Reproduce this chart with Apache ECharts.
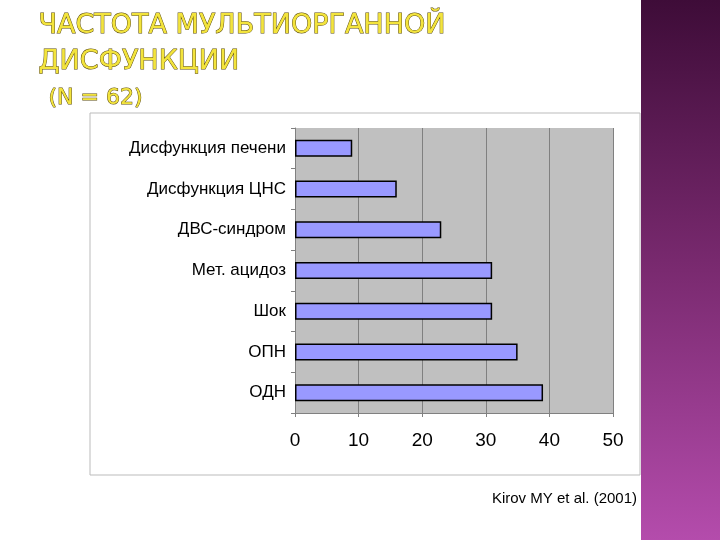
<!DOCTYPE html>
<html>
<head>
<meta charset="utf-8">
<script src="https://cdn.jsdelivr.net/npm/echarts@6/dist/echarts.min.js"></script>
<style>html,body{margin:0;padding:0;background:#fff}#c{width:720px;height:540px}</style>
</head>
<body>
<div id="c"></div>
<script>
const categories = ['Дисфункция печени', 'Дисфункция ЦНС', 'ДВС-синдром', 'Мет. ацидоз', 'Шок', 'ОПН', 'ОДН'];
const values = [9, 16, 23, 31, 31, 35, 39];
const xTicks = [0, 10, 20, 30, 40, 50];

let chart = echarts.init(document.getElementById('c'));
chart.setOption({
  animation: false,
  graphic: [
    { type: 'rect', shape: { x: 641, y: 0, width: 79, height: 540 },
      style: { fill: new echarts.graphic.LinearGradient(0, 0, 0, 1, [
        { offset: 0, color: '#3e0c38' }, { offset: 0.5, color: '#7a2a70' }, { offset: 1, color: '#b44cac' }]) } },
    { type: 'rect', shape: { x: 90, y: 113, width: 550, height: 362 },
      style: { fill: '#fff', stroke: '#bbb', lineWidth: 1 }, z: -1 },
    { type: 'rect', shape: { x: 295, y: 128, width: 318, height: 285 },
      style: { fill: '#c0c0c0' }, z: 0 },
    { type: 'text', left: 38, top: 8, style: { text: 'ЧАСТОТА МУЛЬТИОРГАННОЙ\nДИСФУНКЦИИ', font: '27px "DejaVu Sans"', lineHeight: 36, fill: '#f3e43c', stroke: '#5a4a10', lineWidth: 1 } },
    { type: 'text', left: 48, top: 87, style: { text: '(N = 62)', font: '22px "DejaVu Sans"', fill: '#f3e43c', stroke: '#5a4a10', lineWidth: 1 } },
    { type: 'text', right: 83, top: 491, style: { text: 'Kirov MY et al. (2001)', font: '15px "Liberation Sans"', fill: '#000' } }
  ],
  grid: { left: 295, right: 107, top: 128, bottom: 127 },
  xAxis: {
    type: 'value', min: 0, max: 50, interval: 10,
    axisLine: { show: true, lineStyle: { color: '#808080' } },
    axisTick: { show: true, length: 4, lineStyle: { color: '#808080' } },
    axisLabel: { color: '#000', fontSize: 19, fontFamily: 'Liberation Sans', margin: 18,
      formatter: v => xTicks.includes(v) ? String(v) : '' },
    splitLine: { lineStyle: { color: '#808080' } }
  },
  yAxis: {
    type: 'category', data: categories, inverse: true,
    axisLine: { show: true, lineStyle: { color: '#808080' } },
    axisTick: { show: true, length: 4, lineStyle: { color: '#808080' } },
    axisLabel: { color: '#000', fontSize: 17, fontFamily: 'Liberation Sans', margin: 9 }
  },
  series: [{
    type: 'bar', data: values, barWidth: 17,
    itemStyle: { color: '#9999ff', borderColor: '#000', borderWidth: 1.5 }
  }]
});
</script>
</body>
</html>
